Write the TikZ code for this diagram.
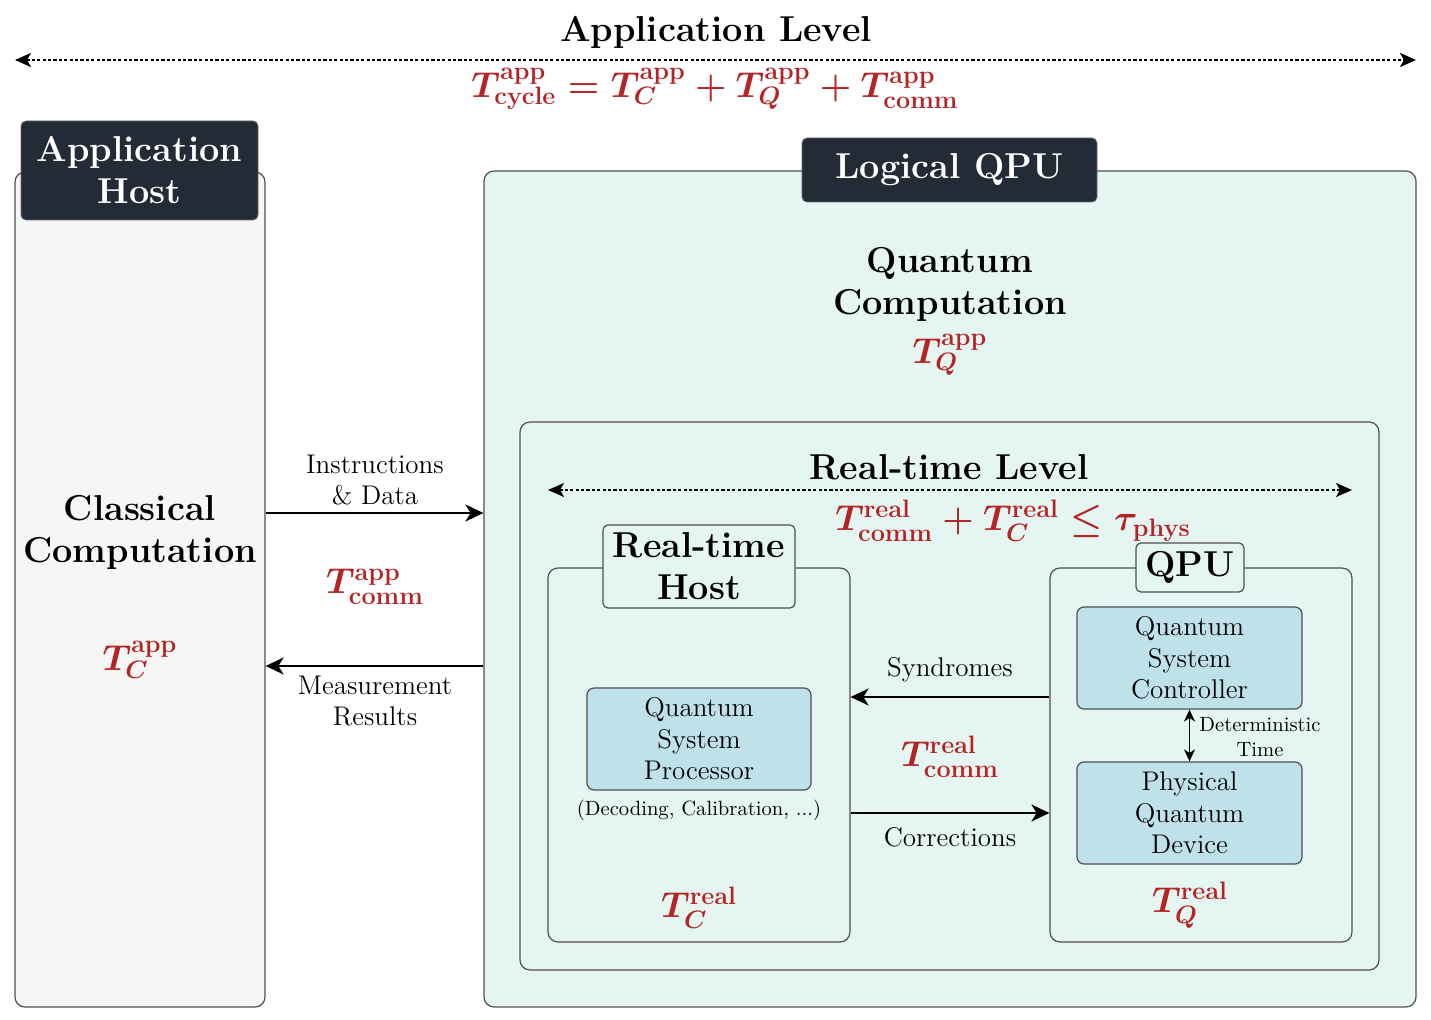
\RequirePackage{fix-cm}
\documentclass[tikz,border=0pt]{standalone}
\usepackage{fontspec}
\usetikzlibrary{arrows.meta}
\definecolor{darkbox}{HTML}{232B36}
\definecolor{appbg}{HTML}{F6F6F4}
\definecolor{qbg}{HTML}{E5F5F2}
\definecolor{bluebox}{HTML}{BFE1E9}
\definecolor{tred}{HTML}{B42424}
\definecolor{bord}{HTML}{505050}
\tikzset{
  bigbold/.style={font=\fontsize{18}{21}\selectfont\bfseries, align=center},
  normtext/.style={font=\fontsize{13.5}{15.8}\selectfont, align=center},
  smalltext/.style={font=\fontsize{10.3}{12.2}\selectfont, align=center},
  mathlbl/.style={font=\fontsize{18}{21}\selectfont\boldmath, text=tred, inner sep=0pt},
  outerbox/.style={draw=bord, line width=0.6pt, rounded corners=5pt, inner sep=0pt},
  darktitle/.style={fill=darkbox, draw=darkbox!70!white, rounded corners=2.5pt, text=white, bigbold, inner sep=0pt},
  lighttitle/.style={fill=qbg, draw=bord, line width=0.6pt, rounded corners=2.5pt, bigbold, inner sep=0pt},
  compbox/.style={fill=bluebox, draw=bord, line width=0.6pt, rounded corners=3.5pt, normtext, inner sep=0pt},
  arr/.style={-{Stealth[length=9pt,width=8.5pt,inset=2.6pt]}, line width=0.9pt},
  levelarr/.style={{Stealth[length=8pt,width=7pt,inset=2pt]}-{Stealth[length=8pt,width=7pt,inset=2pt]}, line width=1pt, dash pattern=on 1.6pt off 1.1pt},
}
\begin{document}
\begin{tikzpicture}[x=0.5pt,y=-0.5pt]
\useasboundingbox (0,0) rectangle (1431,1020);
% level arrow top
\node[bigbold] (applevel) at (716,32) {Application Level};
\coordinate (al) at (15,60);
\coordinate (ar) at (1416,60);
\draw[levelarr] (al) -- (ar);
\node[mathlbl] (cycle) at (715,89) {$T^{\mathbf{app}}_{\mathbf{cycle}} = T^{\mathbf{app}}_{C} + T^{\mathbf{app}}_{Q} + T^{\mathbf{app}}_{\mathbf{comm}}$};

% application host
\node[outerbox, fill=appbg, minimum width=125pt, minimum height=417.5pt] (apphost) at (140,589.5) {};
\node[darktitle, minimum width=118.5pt, minimum height=49.5pt] (apphosttitle) at (139.5,170.5) {Application\\Host};
\node[bigbold] (classical) at (140,532) {Classical\\Computation};
\node[mathlbl] (tcapp) at (140,660) {$T^{\mathbf{app}}_{C}$};

% logical QPU
\node[outerbox, fill=qbg, minimum width=466pt, minimum height=418pt] (lqpu) at (950,589) {};
\node[darktitle, minimum width=147.5pt, minimum height=32pt] (lqputitle) at (949.5,170) {Logical QPU};
\node[bigbold] (qcomp) at (950,284) {Quantum\\Computation};
\node[mathlbl] (tqapp) at (950,355) {$T^{\mathbf{app}}_{Q}$};

% real-time level box
\node[outerbox, fill=qbg, minimum width=429.5pt, minimum height=274pt] (rtbox) at (949.5,696) {};
\node[bigbold] (rtlevel) at (949,467) {Real-time Level};
\coordinate (rl) at (548,490);
\coordinate (rr) at (1352,490);
\draw[levelarr] (rl) -- (rr);
\node[mathlbl] (rtcond) at (1013,521) {$T^{\mathbf{real}}_{\mathbf{comm}} + T^{\mathbf{real}}_{C} \leq \tau_{\mathbf{phys}}$};

% real-time host
\node[outerbox, fill=qbg, minimum width=151pt, minimum height=187pt] (rthost) at (699,755) {};
\node[lighttitle, minimum width=96pt, minimum height=41.5pt] (rthosttitle) at (699,566.5) {Real-time\\Host};
\node[compbox, minimum width=112pt, minimum height=51pt] (qsp) at (699,739) {Quantum\\System\\Processor};
\node[smalltext] (decoding) at (699,810) {(Decoding, Calibration, ...)};
\node[mathlbl] (tcreal) at (699,908) {$T^{\mathbf{real}}_{C}$};

% QPU
\node[outerbox, fill=qbg, minimum width=151pt, minimum height=187pt] (qpu) at (1201,755) {};
\node[lighttitle, minimum width=54pt, minimum height=24.5pt] (qputitle) at (1190,567.5) {QPU};
\node[compbox, minimum width=112.5pt, minimum height=51pt] (qsc) at (1189.5,658) {Quantum\\System\\Controller};
\node[compbox, minimum width=112.5pt, minimum height=51pt] (pqd) at (1189.5,813) {Physical\\Quantum\\Device};
\draw[{Stealth[length=6pt,width=5.5pt,inset=1.8pt]}-{Stealth[length=6pt,width=5.5pt,inset=1.8pt]}, line width=0.7pt] (qsc.south) -- (pqd.north);
\node[smalltext] (dettime) at (1260,737) {Deterministic\\Time};
\node[mathlbl] (tqreal) at (1190,905) {$T^{\mathbf{real}}_{Q}$};

% real-time communication
\coordinate (ysyn) at (0,697);
\coordinate (ycor) at (0,813);
\draw[arr] (qpu.west |- ysyn) -- (rthost.east |- ysyn);
\draw[arr] (rthost.east |- ycor) -- (qpu.west |- ycor);
\node[normtext] (syndromes) at (950,670) {Syndromes};
\node[normtext] (corrections) at (950,837) {Corrections};
\node[mathlbl] (tcommreal) at (950,757) {$T^{\mathbf{real}}_{\mathbf{comm}}$};

% application communication
\coordinate (yins) at (0,513);
\coordinate (ymeas) at (0,666);
\draw[arr] (apphost.east |- yins) -- (lqpu.west |- yins);
\draw[arr] (lqpu.west |- ymeas) -- (apphost.east |- ymeas);
\node[normtext] (instr) at (375,480) {Instructions\\\&~Data};
\node[normtext] (meas) at (375,701) {Measurement\\Results};
\node[mathlbl] (tcommapp) at (375,587) {$T^{\mathbf{app}}_{\mathbf{comm}}$};
\end{tikzpicture}
\end{document}
